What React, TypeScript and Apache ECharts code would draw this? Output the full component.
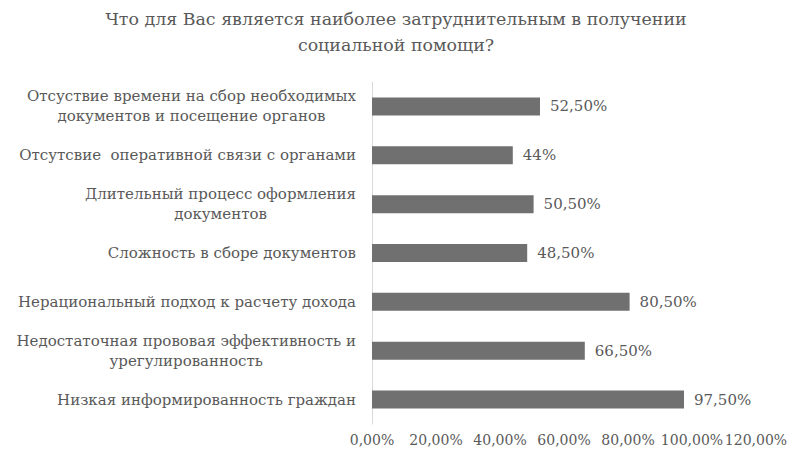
import React, { useEffect, useRef } from "react";
import * as echarts from "echarts";

const titleText = "Что для Вас является наиболее затруднительным в получении\nсоциальной помощи?";

const categories = [
  "Отсуствие времени на сбор необходимых\nдокументов и посещение органов",
  "Отсутсвие  оперативной связи с органами",
  "Длительный процесс оформления\nдокументов",
  "Сложность в сборе документов",
  "Нерациональный подход к расчету дохода",
  "Недостаточная прововая эффективность и\nурегулированность",
  "Низкая информированность граждан",
];

const values = [52.5, 44, 50.5, 48.5, 80.5, 66.5, 97.5];
const valueLabels = ["52,50%", "44%", "50,50%", "48,50%", "80,50%", "66,50%", "97,50%"];

const axisMin = 0;
const axisMax = 120;
const axisInterval = 20;

const FONT = "DejaVu Serif";

export default function App() {
  const ref = useRef<HTMLDivElement>(null);
  useEffect(() => {
    if (!ref.current) return;
    const chart = echarts.init(ref.current, undefined, { renderer: "svg" });
    chart.setOption({
      animation: false,
      backgroundColor: "#ffffff",
      title: {
        text: titleText,
        left: "center",
        top: 1,
        textStyle: {
          fontFamily: FONT,
          fontSize: 17.4,
          fontWeight: "normal",
          color: "#595959",
          lineHeight: 26,
        },
      },
      grid: {
        left: 372,
        right: 36,
        top: 82,
        bottom: 29,
        containLabel: false,
        outerBoundsMode: "none",
      },
      xAxis: {
        type: "value",
        min: axisMin,
        max: axisMax,
        interval: axisInterval,
        axisLine: { show: false },
        axisTick: { show: false },
        splitLine: { show: false },
        axisLabel: {
          fontFamily: FONT,
          fontSize: 14,
          color: "#595959",
          margin: 9,
          showMinLabel: true,
          showMaxLabel: true,
          hideOverlap: false,
          formatter: (v: number) => v.toFixed(2).replace(".", ",") + "%",
        },
      },
      yAxis: {
        type: "category",
        data: categories,
        inverse: true,
        axisLine: { show: true, lineStyle: { color: "#d9d9d9", width: 1 } },
        axisTick: { show: false },
        axisLabel: {
          margin: 16,
          align: "right",
          fontFamily: FONT,
          fontSize: 15,
          color: "#595959",
          formatter: (v: string) =>
            v
              .split("\n")
              .map((l) => "{c|" + l + "}")
              .join("\n"),
          rich: {
            c: {
              align: "center",
              fontFamily: FONT,
              fontSize: 15,
              color: "#595959",
              lineHeight: 20,
            },
          },
        },
      },
      series: [
        {
          type: "bar",
          data: values,
          barWidth: 18,
          itemStyle: { color: "#707070" },
          label: {
            show: true,
            position: "right",
            distance: 10,
            fontFamily: FONT,
            fontSize: 15,
            color: "#595959",
            formatter: (p: any) => valueLabels[p.dataIndex],
          },
        },
      ],
    });
    return () => chart.dispose();
  }, []);
  return (
    <div
      ref={ref}
      style={{ position: "fixed", left: 0, top: 0, width: 792, height: 453 }}
    />
  );
}
